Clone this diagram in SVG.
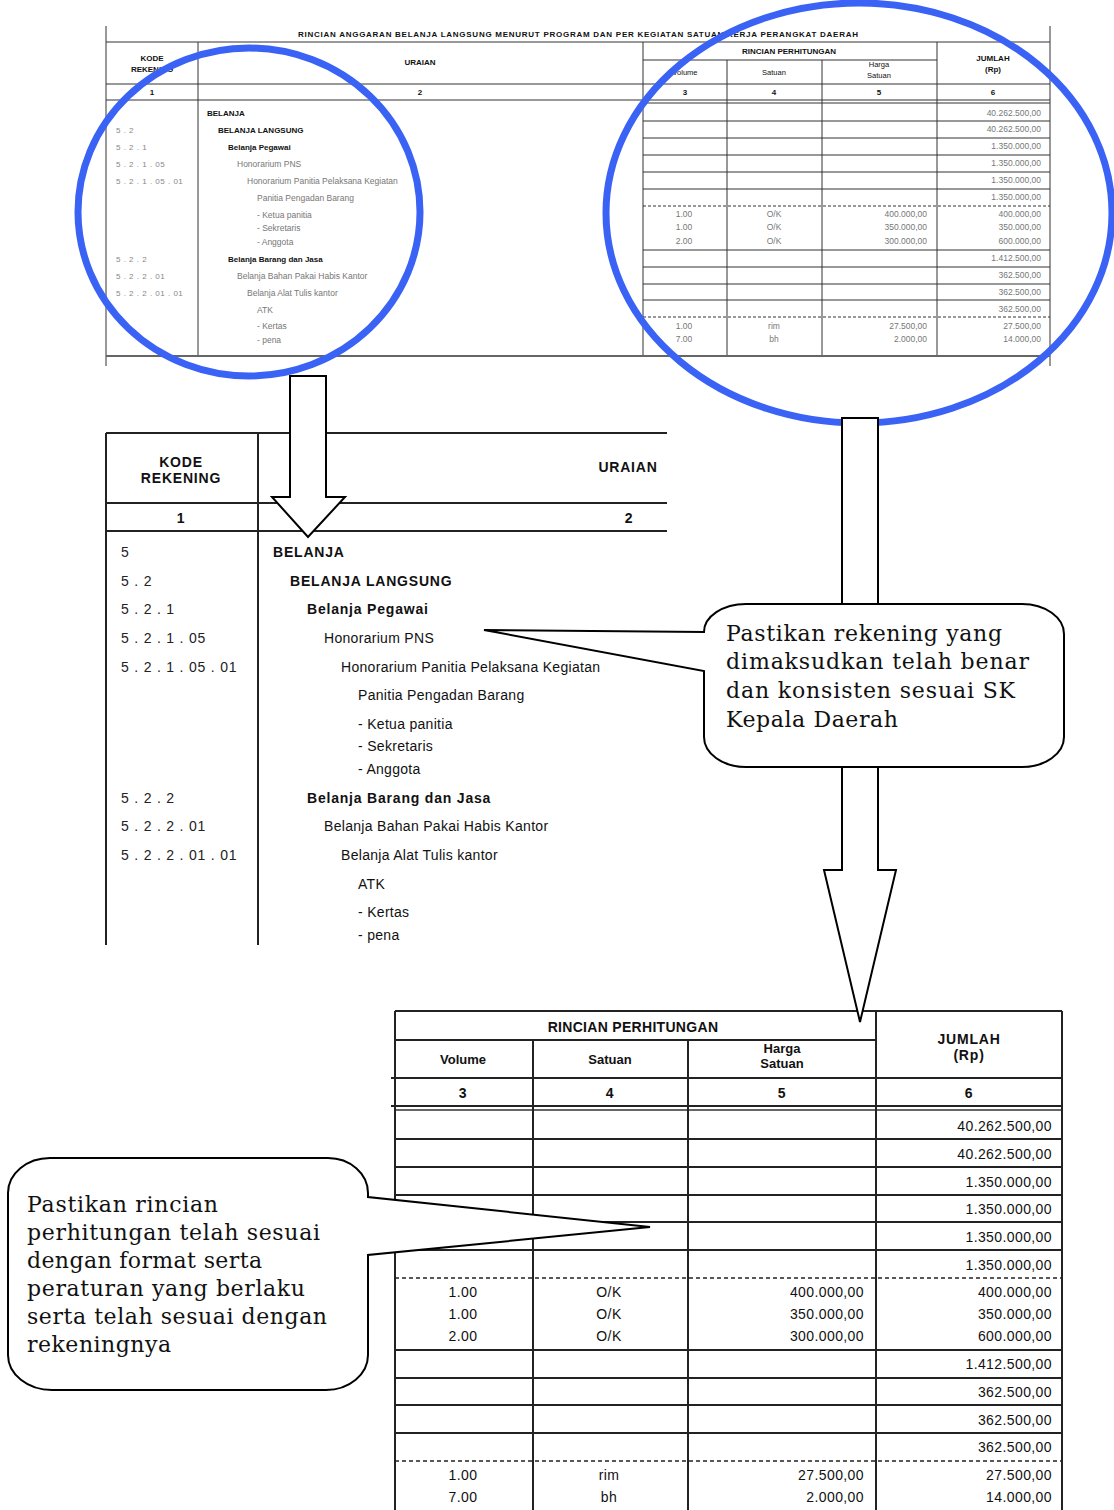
<svg xmlns="http://www.w3.org/2000/svg" width="1114" height="1510" viewBox="0 0 1114 1510">
<style>
.bg{fill:#fff}
.tl{stroke:#333;stroke-width:1;fill:none}
.tld{stroke:#333;stroke-width:1;fill:none;stroke-dasharray:3 2}
.ml{stroke:#222;stroke-width:2;fill:none}
.bl{stroke:#222;stroke-width:2;fill:none}
.bld{stroke:#222;stroke-width:1.5;fill:none;stroke-dasharray:4 3}
.ts{font-family:"Liberation Sans",Arial,sans-serif;font-size:8.5px;fill:#777}
.tb{font-family:"Liberation Sans",Arial,sans-serif;font-size:8px;font-weight:bold;fill:#111}
.tc{font-family:"Liberation Sans",Arial,sans-serif;font-size:8px;fill:#888;letter-spacing:0.5px}
.m{font-family:"Liberation Sans",Arial,sans-serif;font-size:14px;fill:#111;letter-spacing:0.3px}
.mb{font-family:"Liberation Sans",Arial,sans-serif;font-size:14px;font-weight:bold;fill:#111;letter-spacing:0.8px}
.mc{font-family:"Liberation Sans",Arial,sans-serif;font-size:14px;fill:#222;letter-spacing:0.8px}
.mh{font-family:"Liberation Sans",Arial,sans-serif;font-size:14px;font-weight:bold;fill:#111;letter-spacing:0.8px}
.b{font-family:"Liberation Sans",Arial,sans-serif;font-size:14px;fill:#111;letter-spacing:0.4px}
.bh{font-family:"Liberation Sans",Arial,sans-serif;font-size:13px;font-weight:bold;fill:#111}
.c{font-family:"DejaVu Serif","Liberation Serif",serif;font-size:22px;fill:#111}
.ell{fill:none;stroke:#3a63f5;stroke-width:7}
.arr{fill:#fff;stroke:#000;stroke-width:2;stroke-linejoin:miter}
.call{fill:#fff;stroke:#000;stroke-width:2}
.mid{text-anchor:middle}
.end{text-anchor:end}
</style>
<rect class="bg" x="0" y="0" width="1114" height="1510"/>

<g id="top-table">
  <line class="tl" x1="106" y1="26" x2="106" y2="366"/>
  <line class="tl" x1="1050" y1="26" x2="1050" y2="366"/>
  <text class="tb mid" x="578" y="37" textLength="560" lengthAdjust="spacing">RINCIAN ANGGARAN BELANJA LANGSUNG MENURUT PROGRAM DAN PER KEGIATAN SATUAN KERJA PERANGKAT DAERAH</text>
  <line class="tl" x1="106" y1="42" x2="1050" y2="42"/>
  <line class="tl" x1="643" y1="60" x2="937" y2="60"/>
  <line class="tl" x1="106" y1="84" x2="1050" y2="84"/>
  <line class="tl" x1="106" y1="100" x2="1050" y2="100"/>
  <line class="tl" x1="643" y1="103" x2="1050" y2="103"/>
  <line class="tl" x1="198" y1="42" x2="198" y2="356"/>
  <line class="tl" x1="643" y1="42" x2="643" y2="356"/>
  <line class="tl" x1="727" y1="60" x2="727" y2="356"/>
  <line class="tl" x1="822" y1="60" x2="822" y2="356"/>
  <line class="tl" x1="937" y1="42" x2="937" y2="356"/>
  <g>
    <line class="tl" x1="643" y1="121" x2="1050" y2="121"/>
    <line class="tl" x1="643" y1="138" x2="1050" y2="138"/>
    <line class="tl" x1="643" y1="155" x2="1050" y2="155"/>
    <line class="tl" x1="643" y1="172" x2="1050" y2="172"/>
    <line class="tl" x1="643" y1="189" x2="1050" y2="189"/>
    <line class="tld" x1="643" y1="206" x2="1050" y2="206"/>
    <line class="tl" x1="643" y1="250" x2="1050" y2="250"/>
    <line class="tl" x1="643" y1="267" x2="1050" y2="267"/>
    <line class="tl" x1="643" y1="284" x2="1050" y2="284"/>
    <line class="tl" x1="643" y1="300" x2="1050" y2="300"/>
    <line class="tld" x1="643" y1="317" x2="1050" y2="317"/>
  </g>
  <line x1="106" y1="356" x2="1050" y2="356" stroke="#666" stroke-width="2"/>
  <text class="tb mid" x="152" y="61">KODE</text>
  <text class="tb mid" x="152" y="72">REKENING</text>
  <text class="tb mid" x="420" y="65">URAIAN</text>
  <text class="tb mid" x="789" y="54">RINCIAN PERHITUNGAN</text>
  <text class="tb mid" x="685" y="75" style="font-weight:normal;font-size:7.5px">Volume</text>
  <text class="tb mid" x="774" y="75" style="font-weight:normal;font-size:7.5px">Satuan</text>
  <text class="tb mid" x="879" y="67" style="font-weight:normal;font-size:7.5px">Harga</text>
  <text class="tb mid" x="879" y="78" style="font-weight:normal;font-size:7.5px">Satuan</text>
  <text class="tb mid" x="993" y="61">JUMLAH</text>
  <text class="tb mid" x="993" y="72">(Rp)</text>
  <text class="tb mid" x="152" y="95">1</text>
  <text class="tb mid" x="420" y="95">2</text>
  <text class="tb mid" x="685" y="95">3</text>
  <text class="tb mid" x="774" y="95">4</text>
  <text class="tb mid" x="879" y="95">5</text>
  <text class="tb mid" x="993" y="95">6</text>

  <text class="tc" x="116" y="133">5 . 2</text>
  <text class="tc" x="116" y="150">5 . 2 . 1</text>
  <text class="tc" x="116" y="167">5 . 2 . 1 . 05</text>
  <text class="tc" x="116" y="184">5 . 2 . 1 . 05 . 01</text>
  <text class="tc" x="116" y="262">5 . 2 . 2</text>
  <text class="tc" x="116" y="279">5 . 2 . 2 . 01</text>
  <text class="tc" x="116" y="296">5 . 2 . 2 . 01 . 01</text>

  <text class="tb" x="207" y="116">BELANJA</text>
  <text class="tb" x="218" y="133">BELANJA LANGSUNG</text>
  <text class="tb" x="228" y="150">Belanja Pegawai</text>
  <text class="ts" x="237" y="167">Honorarium PNS</text>
  <text class="ts" x="247" y="184">Honorarium Panitia Pelaksana Kegiatan</text>
  <text class="ts" x="257" y="201">Panitia Pengadan Barang</text>
  <text class="ts" x="257" y="218">- Ketua panitia</text>
  <text class="ts" x="257" y="231">- Sekretaris</text>
  <text class="ts" x="257" y="245">- Anggota</text>
  <text class="tb" x="228" y="262">Belanja Barang dan Jasa</text>
  <text class="ts" x="237" y="279">Belanja Bahan Pakai Habis Kantor</text>
  <text class="ts" x="247" y="296">Belanja Alat Tulis kantor</text>
  <text class="ts" x="257" y="313">ATK</text>
  <text class="ts" x="257" y="329">- Kertas</text>
  <text class="ts" x="257" y="343">- pena</text>

  <text class="ts end" x="1041" y="116">40.262.500,00</text>
  <text class="ts end" x="1041" y="132">40.262.500,00</text>
  <text class="ts end" x="1041" y="149">1.350.000,00</text>
  <text class="ts end" x="1041" y="166">1.350.000,00</text>
  <text class="ts end" x="1041" y="183">1.350.000,00</text>
  <text class="ts end" x="1041" y="200">1.350.000,00</text>
  <text class="ts mid" x="684" y="217">1.00</text><text class="ts mid" x="774" y="217">O/K</text><text class="ts end" x="927" y="217">400.000,00</text><text class="ts end" x="1041" y="217">400.000,00</text>
  <text class="ts mid" x="684" y="230">1.00</text><text class="ts mid" x="774" y="230">O/K</text><text class="ts end" x="927" y="230">350.000,00</text><text class="ts end" x="1041" y="230">350.000,00</text>
  <text class="ts mid" x="684" y="244">2.00</text><text class="ts mid" x="774" y="244">O/K</text><text class="ts end" x="927" y="244">300.000,00</text><text class="ts end" x="1041" y="244">600.000,00</text>
  <text class="ts end" x="1041" y="261">1.412.500,00</text>
  <text class="ts end" x="1041" y="278">362.500,00</text>
  <text class="ts end" x="1041" y="295">362.500,00</text>
  <text class="ts end" x="1041" y="312">362.500,00</text>
  <text class="ts mid" x="684" y="329">1.00</text><text class="ts mid" x="774" y="329">rim</text><text class="ts end" x="927" y="329">27.500,00</text><text class="ts end" x="1041" y="329">27.500,00</text>
  <text class="ts mid" x="684" y="342">7.00</text><text class="ts mid" x="774" y="342">bh</text><text class="ts end" x="927" y="342">2.000,00</text><text class="ts end" x="1041" y="342">14.000,00</text>
</g>

<g id="highlight-left">
  <ellipse class="ell" cx="249" cy="212" rx="171" ry="164"/>
</g>
<g id="highlight-right">
  <ellipse class="ell" cx="859" cy="213" rx="253" ry="210"/>
</g>

<g id="middle-table">
  <line class="ml" x1="106" y1="433" x2="106" y2="945"/>
  <line class="ml" x1="258" y1="433" x2="258" y2="945"/>
  <line class="ml" x1="106" y1="433" x2="667" y2="433"/>
  <line class="ml" x1="106" y1="503" x2="667" y2="503"/>
  <line class="ml" x1="106" y1="531" x2="667" y2="531"/>
  <text class="mh mid" x="181" y="467">KODE</text>
  <text class="mh mid" x="181" y="483">REKENING</text>
  <text class="mh mid" x="628" y="472">URAIAN</text>
  <text class="mh mid" x="181" y="523">1</text>
  <text class="mh mid" x="629" y="523">2</text>

  <text class="mc" x="121" y="557">5</text>
  <text class="mc" x="121" y="586">5 . 2</text>
  <text class="mc" x="121" y="614">5 . 2 . 1</text>
  <text class="mc" x="121" y="643">5 . 2 . 1 . 05</text>
  <text class="mc" x="121" y="672">5 . 2 . 1 . 05 . 01</text>
  <text class="mc" x="121" y="803">5 . 2 . 2</text>
  <text class="mc" x="121" y="831">5 . 2 . 2 . 01</text>
  <text class="mc" x="121" y="860">5 . 2 . 2 . 01 . 01</text>

  <text class="mb" x="273" y="557">BELANJA</text>
  <text class="mb" x="290" y="586">BELANJA LANGSUNG</text>
  <text class="mb" x="307" y="614">Belanja Pegawai</text>
  <text class="m" x="324" y="643">Honorarium PNS</text>
  <text class="m" x="341" y="672">Honorarium Panitia Pelaksana Kegiatan</text>
  <text class="m" x="358" y="700">Panitia Pengadan Barang</text>
  <text class="m" x="358" y="729">- Ketua panitia</text>
  <text class="m" x="358" y="751">- Sekretaris</text>
  <text class="m" x="358" y="774">- Anggota</text>
  <text class="mb" x="307" y="803">Belanja Barang dan Jasa</text>
  <text class="m" x="324" y="831">Belanja Bahan Pakai Habis Kantor</text>
  <text class="m" x="341" y="860">Belanja Alat Tulis kantor</text>
  <text class="m" x="358" y="889">ATK</text>
  <text class="m" x="358" y="917">- Kertas</text>
  <text class="m" x="358" y="940">- pena</text>
</g>

<g id="bottom-table">
  <line class="bl" x1="395" y1="1011" x2="1062" y2="1011"/>
  <line class="bl" x1="395" y1="1040" x2="876" y2="1040"/>
  <line class="bl" x1="391" y1="1078" x2="1062" y2="1078"/>
  <line class="bl" x1="391" y1="1106" x2="1062" y2="1106"/>
  <line class="tl" x1="395" y1="1110" x2="1062" y2="1110" style="stroke-width:1.5"/>
  <line class="bl" x1="395" y1="1011" x2="395" y2="1510"/>
  <line class="bl" x1="533" y1="1040" x2="533" y2="1510"/>
  <line class="bl" x1="688" y1="1040" x2="688" y2="1510"/>
  <line class="bl" x1="876" y1="1011" x2="876" y2="1510"/>
  <line class="bl" x1="1062" y1="1011" x2="1062" y2="1510"/>
  <line class="bl" x1="395" y1="1139" x2="1062" y2="1139"/>
  <line class="bl" x1="395" y1="1167" x2="1062" y2="1167"/>
  <line class="bl" x1="395" y1="1195" x2="1062" y2="1195"/>
  <line class="bl" x1="395" y1="1222" x2="1062" y2="1222"/>
  <line class="bl" x1="395" y1="1250" x2="1062" y2="1250"/>
  <line class="bld" x1="395" y1="1278" x2="1062" y2="1278"/>
  <line class="bl" x1="395" y1="1350" x2="1062" y2="1350"/>
  <line class="bl" x1="395" y1="1378" x2="1062" y2="1378"/>
  <line class="bl" x1="395" y1="1405" x2="1062" y2="1405"/>
  <line class="bl" x1="395" y1="1433" x2="1062" y2="1433"/>
  <line class="bld" x1="395" y1="1461" x2="1062" y2="1461"/>

  <text class="mh mid" x="633" y="1032" style="letter-spacing:0.3px">RINCIAN PERHITUNGAN</text>
  <text class="bh mid" x="463" y="1064">Volume</text>
  <text class="bh mid" x="610" y="1064">Satuan</text>
  <text class="bh mid" x="782" y="1053">Harga</text>
  <text class="bh mid" x="782" y="1068">Satuan</text>
  <text class="mh mid" x="969" y="1044">JUMLAH</text>
  <text class="mh mid" x="969" y="1060">(Rp)</text>
  <text class="mh mid" x="463" y="1098">3</text>
  <text class="mh mid" x="610" y="1098">4</text>
  <text class="mh mid" x="782" y="1098">5</text>
  <text class="mh mid" x="969" y="1098">6</text>

  <text class="b end" x="1052" y="1131">40.262.500,00</text>
  <text class="b end" x="1052" y="1159">40.262.500,00</text>
  <text class="b end" x="1052" y="1187">1.350.000,00</text>
  <text class="b end" x="1052" y="1214">1.350.000,00</text>
  <text class="b end" x="1052" y="1242">1.350.000,00</text>
  <text class="b end" x="1052" y="1270">1.350.000,00</text>
  <text class="b mid" x="463" y="1297">1.00</text><text class="b mid" x="609" y="1297">O/K</text><text class="b end" x="864" y="1297">400.000,00</text><text class="b end" x="1052" y="1297">400.000,00</text>
  <text class="b mid" x="463" y="1319">1.00</text><text class="b mid" x="609" y="1319">O/K</text><text class="b end" x="864" y="1319">350.000,00</text><text class="b end" x="1052" y="1319">350.000,00</text>
  <text class="b mid" x="463" y="1341">2.00</text><text class="b mid" x="609" y="1341">O/K</text><text class="b end" x="864" y="1341">300.000,00</text><text class="b end" x="1052" y="1341">600.000,00</text>
  <text class="b end" x="1052" y="1369">1.412.500,00</text>
  <text class="b end" x="1052" y="1397">362.500,00</text>
  <text class="b end" x="1052" y="1425">362.500,00</text>
  <text class="b end" x="1052" y="1452">362.500,00</text>
  <text class="b mid" x="463" y="1480">1.00</text><text class="b mid" x="609" y="1480">rim</text><text class="b end" x="864" y="1480">27.500,00</text><text class="b end" x="1052" y="1480">27.500,00</text>
  <text class="b mid" x="463" y="1502">7.00</text><text class="b mid" x="609" y="1502">bh</text><text class="b end" x="864" y="1502">2.000,00</text><text class="b end" x="1052" y="1502">14.000,00</text>
</g>

<g id="connectors">
  <polygon class="arr" points="290,376 326,376 326,497 345,497 308,537 272,497 290,497"/>
  <polygon class="arr" points="842,418 878,418 878,870 896,870 860,1022 824,870 842,870"/>
</g>

<g id="callout-rekening">
  <path class="call" d="M 746 604 H 1022 A 42 30 0 0 1 1064 634 V 737 A 42 30 0 0 1 1022 767 H 746 A 42 30 0 0 1 704 737 V 671 L 484 630 L 704 632 A 42 28 0 0 1 746 604 Z"/>
  <text class="c" x="726" y="641" textLength="276" lengthAdjust="spacing">Pastikan rekening yang</text>
  <text class="c" x="726" y="669" textLength="303" lengthAdjust="spacing">dimaksudkan telah benar</text>
  <text class="c" x="726" y="698" textLength="289" lengthAdjust="spacing">dan konsisten sesuai SK</text>
  <text class="c" x="726" y="727" textLength="172" lengthAdjust="spacing">Kepala Daerah</text>
</g>

<g id="callout-rincian">
  <path class="call" d="M 50 1158 H 328 A 40 35 0 0 1 368 1193 V 1197 L 650 1227 L 368 1255 V 1355 A 42 35 0 0 1 326 1390 H 52 A 44 35 0 0 1 8 1355 V 1193 A 42 35 0 0 1 50 1158 Z"/>
  <text class="c" x="27" y="1212" textLength="191" lengthAdjust="spacing">Pastikan rincian</text>
  <text class="c" x="27" y="1240" textLength="293" lengthAdjust="spacing">perhitungan telah sesuai</text>
  <text class="c" x="27" y="1268" textLength="235" lengthAdjust="spacing">dengan format serta</text>
  <text class="c" x="27" y="1296" textLength="278" lengthAdjust="spacing">peraturan yang berlaku</text>
  <text class="c" x="27" y="1324" textLength="300" lengthAdjust="spacing">serta telah sesuai dengan</text>
  <text class="c" x="27" y="1352" textLength="144" lengthAdjust="spacing">rekeningnya</text>
</g>
</svg>
